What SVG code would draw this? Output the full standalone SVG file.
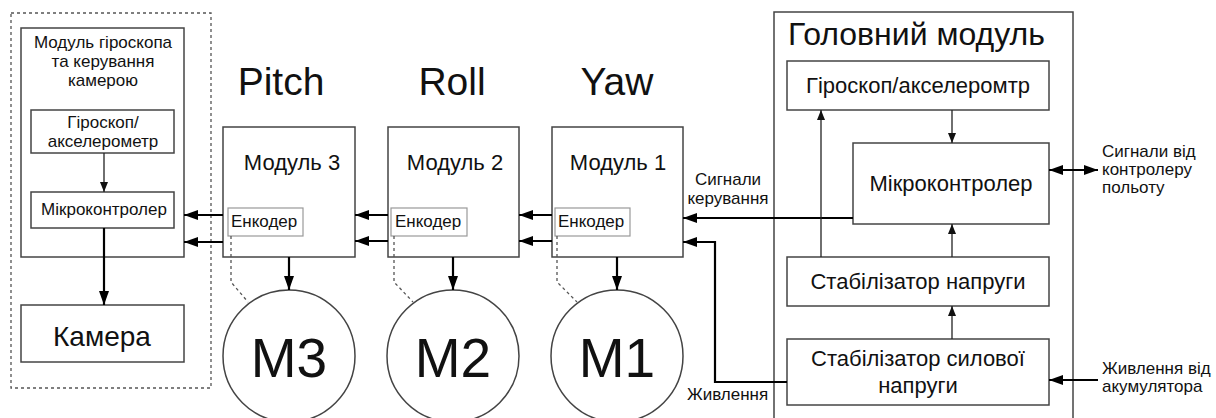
<svg xmlns="http://www.w3.org/2000/svg" width="1216" height="418" viewBox="0 0 1216 418">
<style>
text{font-family:"Liberation Sans",Arial,sans-serif;fill:#111}
.box{fill:#fff;stroke:#444;stroke-width:1.5}
.enc{fill:#fff;stroke:#999;stroke-width:1.2}
.dash{fill:none;stroke:#555;stroke-width:1.3;stroke-dasharray:3,3}
.thick{fill:none;stroke:#000;stroke-width:2.2}
.thin{fill:none;stroke:#222;stroke-width:1.3}
.c{text-anchor:middle}
</style>
<defs>
<marker id="ah" markerUnits="userSpaceOnUse" markerWidth="14" markerHeight="10" refX="14" refY="5" orient="auto-start-reverse"><path d="M0,0 L14,5 L0,10 z" fill="#000"/></marker>
<marker id="at" markerUnits="userSpaceOnUse" markerWidth="10" markerHeight="8" refX="10" refY="4" orient="auto"><path d="M0,0 L10,4 L0,8 z" fill="#111"/></marker>
</defs>
<rect width="1216" height="418" fill="#fff"/>

<g id="camera-module">
<rect x="11" y="13" width="200" height="375" fill="none" stroke="#555" stroke-width="1.3" stroke-dasharray="3,3"/>
<rect class="box" x="21" y="28" width="163" height="229"/>
<text class="c" x="103" y="48" font-size="17">Модуль гіроскопа</text>
<text class="c" x="103" y="67" font-size="17">та керування</text>
<text class="c" x="103" y="86" font-size="17">камерою</text>
</g>
<g id="cam-gyro"><rect class="box" x="31" y="110" width="143" height="43"/>
<text class="c" x="103" y="128" font-size="17">Гіроскоп/</text>
<text class="c" x="103" y="147" font-size="17">акселерометр</text></g>
<g id="cam-mcu"><rect class="box" x="31" y="192" width="143" height="36"/>
<text class="c" x="104" y="215" font-size="17">Мікроконтролер</text></g>
<g id="camera"><rect class="box" x="21" y="305" width="163" height="57"/>
<text class="c" x="102" y="346" font-size="28">Камера</text></g>

<g id="labels-axes">
<text class="c" x="281" y="95" font-size="39">Pitch</text>
<text class="c" x="452" y="95" font-size="39">Roll</text>
<text class="c" x="617" y="95" font-size="39">Yaw</text>
</g>

<g id="module3"><rect class="box" x="223" y="127" width="132" height="130"/>
<text class="c" x="292" y="170" font-size="22">Модуль 3</text>
<rect class="enc" x="228" y="208" width="75" height="28"/>
<text x="231" y="227" font-size="17">Енкодер</text></g>
<g id="module2"><rect class="box" x="388" y="127" width="131" height="130"/>
<text class="c" x="455" y="170" font-size="22">Модуль 2</text>
<rect class="enc" x="391" y="208" width="76" height="28"/>
<text x="395" y="227" font-size="17">Енкодер</text></g>
<g id="module1"><rect class="box" x="552" y="127" width="131" height="130"/>
<text class="c" x="618" y="170" font-size="22">Модуль 1</text>
<rect class="enc" x="555" y="208" width="75" height="28"/>
<text x="558" y="227" font-size="17">Енкодер</text></g>

<g id="m3"><circle class="box" cx="289" cy="356" r="66"/><text class="c" x="289" y="377" font-size="55">M3</text></g>
<g id="m2"><circle class="box" cx="453" cy="356" r="66"/><text class="c" x="453" y="377" font-size="55">M2</text></g>
<g id="m1"><circle class="box" cx="617" cy="356" r="66"/><text class="c" x="617" y="377" font-size="55">M1</text></g>

<g id="main-module"><rect class="box" x="774" y="12" width="299" height="420"/>
<text x="788" y="45" font-size="32">Головний модуль</text></g>
<g id="main-gyro"><rect class="box" x="787" y="61" width="262" height="49"/>
<text class="c" x="918" y="93" font-size="22">Гіроскоп/акселеромтр</text></g>
<g id="main-mcu"><rect class="box" x="853" y="143" width="196" height="81"/>
<text class="c" x="951" y="191" font-size="22">Мікроконтролер</text></g>
<g id="stab"><rect class="box" x="787" y="257" width="262" height="49"/>
<text class="c" x="918" y="289" font-size="22">Стабілізатор напруги</text></g>
<g id="power-stab"><rect class="box" x="787" y="339" width="262" height="66"/>
<text class="c" x="918" y="366" font-size="22">Стабілізатор силової</text>
<text class="c" x="918" y="393" font-size="22">напруги</text></g>

<g id="ext-labels">
<text class="c" x="728" y="185" font-size="17">Сигнали</text>
<text class="c" x="728" y="204" font-size="17">керування</text>
<text x="687" y="400" font-size="17">Живлення</text>
<text x="1102" y="157" font-size="17">Сигнали від</text>
<text x="1102" y="175" font-size="17">контролеру</text>
<text x="1102" y="193" font-size="17">польоту</text>
<text x="1102" y="374" font-size="17">Живлення від</text>
<text x="1102" y="392" font-size="17">акумулятора</text>
</g>

<g id="connectors">
<path class="thin" d="M104,153 V192" marker-end="url(#at)"/>
<path class="thick" d="M104,228 V305" marker-end="url(#ah)"/>
<path class="thick" d="M223,215 H184" marker-end="url(#ah)"/>
<path class="thick" d="M223,242 H184" marker-end="url(#ah)"/>
<path class="thick" d="M388,215 H355" marker-end="url(#ah)"/>
<path class="thick" d="M388,241 H355" marker-end="url(#ah)"/>
<path class="thick" d="M552,215 H519" marker-end="url(#ah)"/>
<path class="thick" d="M552,241 H519" marker-end="url(#ah)"/>
<path class="thick" d="M853,218 H683" marker-end="url(#ah)"/>
<path class="thick" d="M787,382 H715 V242 H683" marker-end="url(#ah)"/>
<path class="thick" d="M289,257 V290" marker-end="url(#ah)"/>
<path class="thick" d="M453,257 V290" marker-end="url(#ah)"/>
<path class="thick" d="M617,257 V290" marker-end="url(#ah)"/>
<path class="dash" d="M231,236 V282 L248,302"/>
<path class="dash" d="M394,236 V282 L413,302"/>
<path class="dash" d="M557,236 V282 L577,302"/>
<path class="thin" d="M952,110 V143" marker-end="url(#at)"/>
<path class="thin" d="M952,257 V224" marker-end="url(#at)"/>
<path class="thin" d="M952,339 V306" marker-end="url(#at)"/>
<path class="thin" d="M821,257 V110" marker-end="url(#at)"/>
<path class="thick" d="M1049,170 H1098" marker-start="url(#ah)" marker-end="url(#ah)"/>
<path class="thick" d="M1098,380 H1049" marker-end="url(#ah)"/>
</g>
</svg>
